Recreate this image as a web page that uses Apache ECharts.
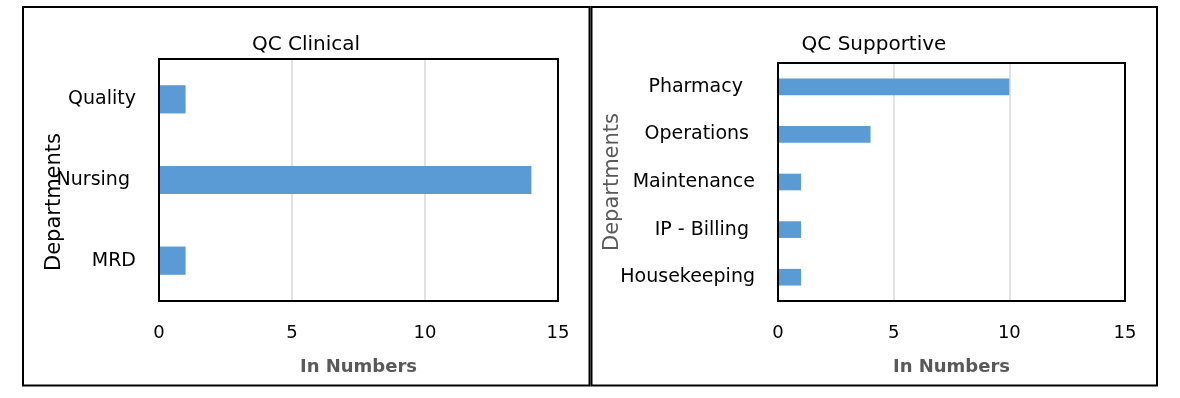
<!DOCTYPE html>
<html><head><meta charset="utf-8">
<script src="https://cdn.jsdelivr.net/npm/echarts@6/dist/echarts.min.js"></script>
<style>html,body{margin:0;padding:0;background:#fff}#c{width:1180px;height:398px}</style>
</head><body><div id="c"></div>
<script>
// ---- data ----
const clinicalCategories = ['Quality', 'Nursing ', 'MRD'];
const clinicalValues = [1, 14, 1];
const supportiveCategories = ['Pharmacy  ', 'Operations ', 'Maintenance', 'IP - Billing ', 'Housekeeping'];
const supportiveValues = [10, 4, 1, 1, 1];
const axisMin = 0, axisMax = 15, axisStep = 5;
const chartTitles = ['QC Clinical', 'QC Supportive'];
const xAxisTitle = 'In Numbers';
const yAxisTitle = 'Departments';

// ---- layout ----
const FONT = 'DejaVu Sans';
const plots = [
  {left: 159, top: 59, width: 399, height: 242},
  {left: 778, top: 63, width: 347, height: 238}
];

const chart = echarts.init(document.getElementById('c'), null, {renderer: 'canvas'});

function xAxisCfg(gridIndex) {
  return {
    type: 'value', gridIndex, min: axisMin, max: axisMax, interval: axisStep,
    axisLine: {show: false}, axisTick: {show: false},
    splitLine: {show: true, showMinLine: false, showMaxLine: false, lineStyle: {color: '#d9d9d9', width: 1.5}},
    axisLabel: {fontFamily: FONT, fontSize: 18, color: '#000', margin: 23},
    name: xAxisTitle, nameLocation: 'middle', nameGap: 57, nameMoveOverlap: false,
    nameTextStyle: {fontFamily: FONT, fontSize: 18, fontWeight: 'bold', color: '#595959'}
  };
}
function yAxisCfg(gridIndex, cats, nameGap, nameColor, pad) {
  return {
    type: 'category', gridIndex, data: cats, inverse: true,
    axisLine: {show: false}, axisTick: {show: false}, splitLine: {show: false},
    axisLabel: {fontFamily: FONT, fontSize: 19, color: '#000', margin: 23},
    name: yAxisTitle, nameLocation: 'middle', nameRotate: 90, nameGap: nameGap, nameMoveOverlap: false,
    nameTextStyle: {fontFamily: FONT, fontSize: 21, color: nameColor, padding: pad}
  };
}

chart.setOption({
  animation: false,
  backgroundColor: '#fff',
  title: [
    {text: chartTitles[0], left: 306, top: 35, textAlign: 'center', padding: 0,
     textStyle: {fontFamily: FONT, fontSize: 20, fontWeight: 'normal', color: '#000'}},
    {text: chartTitles[1], left: 874, top: 35, textAlign: 'center', padding: 0,
     textStyle: {fontFamily: FONT, fontSize: 20, fontWeight: 'normal', color: '#000'}}
  ],
  grid: plots.map(p => Object.assign({show: false, containLabel: false}, p)),
  xAxis: [xAxisCfg(0), xAxisCfg(1)],
  yAxis: [
    yAxisCfg(0, clinicalCategories, 94, '#000', [0, 44, 0, 0]),
    yAxisCfg(1, supportiveCategories, 155, '#595959', [0, 0, 0, 0])
  ],
  series: [
    {type: 'bar', xAxisIndex: 0, yAxisIndex: 0, data: clinicalValues, barWidth: '35%', itemStyle: {color: '#5b9bd5'}, z: 3},
    {type: 'bar', xAxisIndex: 1, yAxisIndex: 1, data: supportiveValues, barWidth: '35%', itemStyle: {color: '#5b9bd5'}, z: 3}
  ],
  graphic: [
    {type: 'rect', z: 100, shape: {x: 23, y: 7, width: 566.5, height: 378.5}, style: {fill: null, stroke: '#000', lineWidth: 2}, silent: true},
    {type: 'rect', z: 100, shape: {x: 591.5, y: 7, width: 565.5, height: 378.5}, style: {fill: null, stroke: '#000', lineWidth: 2}, silent: true}
  ].concat(plots.map(p => ({
    type: 'rect', z: 100, shape: {x: p.left, y: p.top, width: p.width, height: p.height},
    style: {fill: null, stroke: '#000', lineWidth: 2}, silent: true
  })))
});
</script>
</body></html>
